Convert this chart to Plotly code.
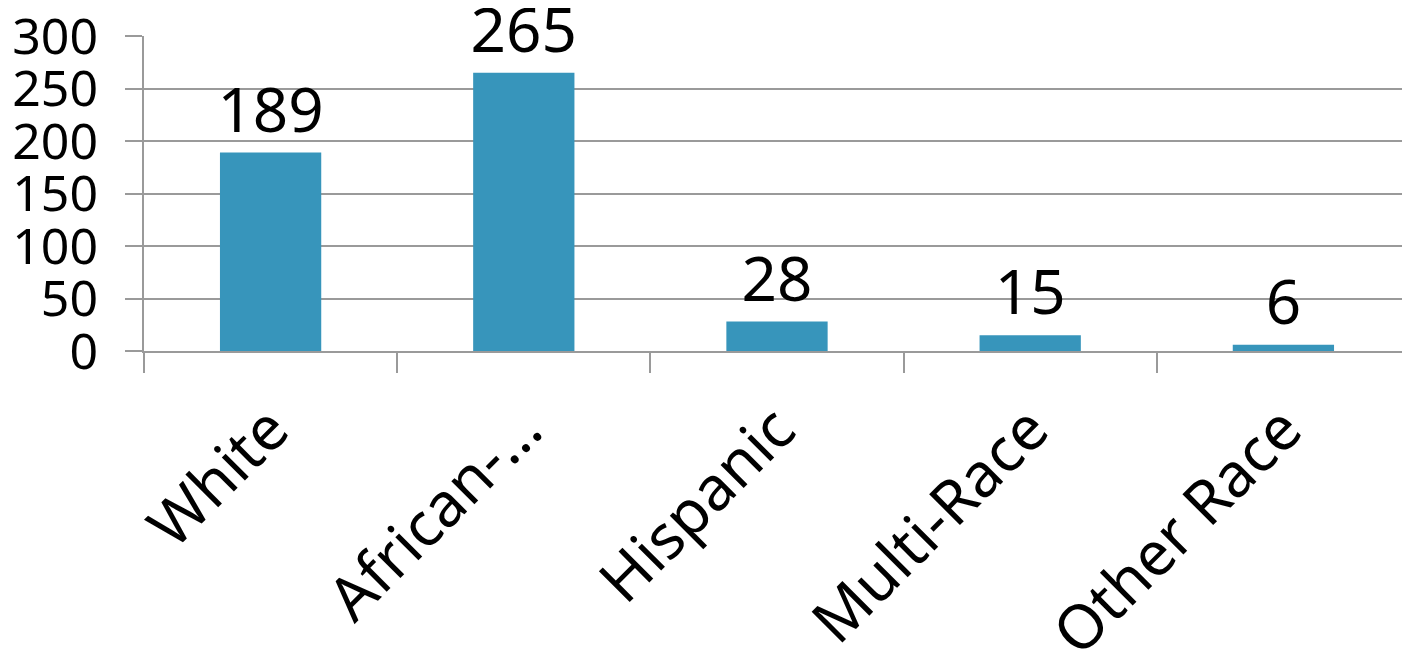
import plotly.graph_objects as go

categories = ["White", "African-…", "Hispanic", "Multi-Race", "Other Race"]
values = [189, 265, 28, 15, 6]
y_ticks = [0, 50, 100, 150, 200, 250, 300]

FONT = "Noto Sans"
GRID = "#9a9a9a"

fig = go.Figure(go.Bar(
    x=categories, y=values,
    marker=dict(color="#3795bb", line=dict(width=0)),
    text=[str(v) for v in values],
    textposition="outside",
    textfont=dict(family=FONT, size=62, color="black"),
    constraintext="none",
    cliponaxis=False,
))

fig.update_layout(
    width=1410, height=652,
    margin=dict(l=136, r=8, t=28, b=309),
    paper_bgcolor="white", plot_bgcolor="white",
    bargap=0.6,
    showlegend=False,
    font=dict(family=FONT, color="black"),
)
fig.update_yaxes(
    range=[0, 300], tickvals=y_ticks,
    showgrid=True, gridcolor=GRID, gridwidth=2,
    ticks="outside", ticklen=17, tickwidth=2, tickcolor=GRID,
    showline=True, linecolor=GRID, linewidth=2,
    tickfont=dict(family=FONT, size=50, color="black"),
    ticklabelstandoff=17, ticklabeloverflow="allow",
    zeroline=False, automargin=False,
)
fig.update_xaxes(
    tickangle=-45,
    ticks="outside", ticklen=20, tickwidth=2, tickcolor=GRID,
    tickson="boundaries",
    showline=True, linecolor=GRID, linewidth=2,
    tickfont=dict(family=FONT, size=61, color="black"),
    ticklabelstandoff=16, ticklabeloverflow="allow",
    showgrid=False, automargin=False,
)

fig.write_html("out.html")
